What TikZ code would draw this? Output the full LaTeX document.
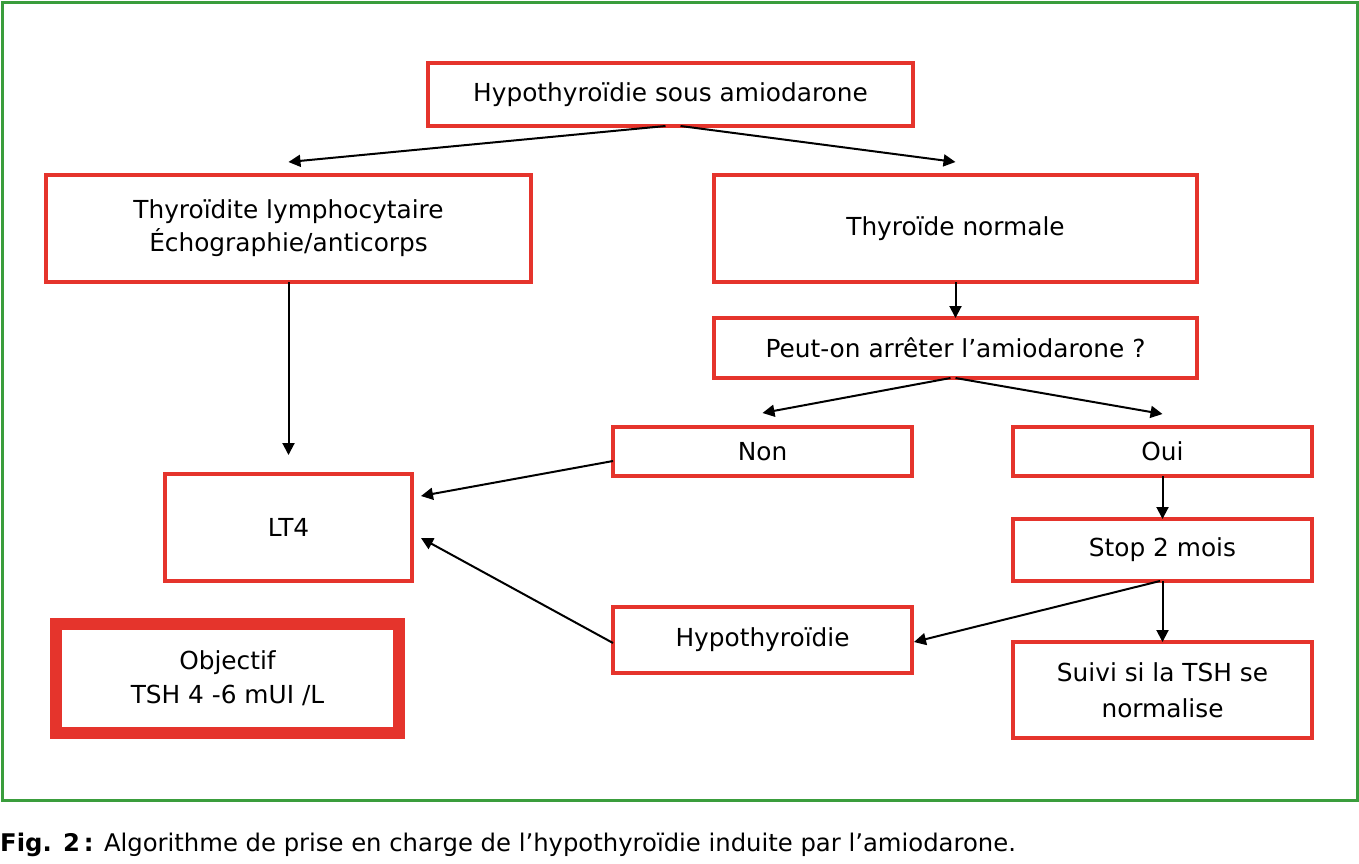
\documentclass[tikz,border=0pt]{standalone}
\usepackage{fontspec}
\setmainfont{DejaVu Sans}
\usetikzlibrary{arrows.meta}
\definecolor{boxred}{RGB}{229,52,44}
\definecolor{framegreen}{RGB}{58,157,60}
\begin{document}
\begin{tikzpicture}[x=1pt,y=-1pt,
  box/.style={draw=boxred, line width=3.2pt, inner sep=0pt, outer sep=0pt,
    align=center, font=\fontsize{24.8}{33}\selectfont},
  arr/.style={line width=2pt, -{Triangle[length=12pt,width=12pt]}}]
\useasboundingbox (0,0) rectangle (1359,863);
\draw[framegreen, line width=3pt] (2,2) rectangle (1357,800);

\node[box, minimum width=485pt, minimum height=63pt] (top) at (670.5,94.5) {Hypothyroïdie sous amiodarone};
\node[box, minimum width=485pt, minimum height=107pt] (thyro) at (288.5,228.5) {Thyroïdite lymphocytaire\\Échographie/anticorps};
\node[box, minimum width=483pt, minimum height=107pt] (norm) at (955.5,228.5) {Thyroïde normale};
\node[box, minimum width=483pt, minimum height=60pt] (peut) at (955.5,348) {Peut-on arrêter l’amiodarone ?};
\node[box, minimum width=299pt, minimum height=49pt] (non) at (762.5,451.5) {Non};
\node[box, minimum width=299pt, minimum height=49pt] (oui) at (1162.5,451.5) {Oui};
\node[box, minimum width=247pt, minimum height=107pt] (lt4) at (288.5,527.5) {LT4};
\node[box, minimum width=299pt, minimum height=62pt] (stop) at (1162.5,550) {Stop 2 mois};
\node[box, minimum width=299pt, minimum height=66pt] (hypo) at (762.5,640) {Hypothyroïdie};
\node[box, minimum width=299pt, minimum height=96pt, font=\fontsize{24.8}{36}\selectfont] (suivi) at (1162.5,690) {Suivi si la TSH se\\normalise};
\node[box, line width=12pt, minimum width=343pt, minimum height=109pt, font=\fontsize{24.8}{34}\selectfont] (obj) at (227.5,678.5) {Objectif\\TSH 4 -6 mUI /L};

\draw[arr] ([xshift=-5pt]top.south) -- ([yshift=13pt]thyro.north);
\draw[arr] ([xshift=10pt]top.south) -- ([yshift=13pt]norm.north);
\draw[arr] (thyro.south) -- ([yshift=19pt]lt4.north);
\draw[arr] (norm.south) -- (peut.north);
\draw[arr] ([xshift=-5pt]peut.south) -- ([yshift=14pt]non.north);
\draw[arr] (peut.south) -- ([yshift=13pt]oui.north);
\draw[arr] ([yshift=-9.5pt]non.west) -- ([xshift=9pt,yshift=31.5pt]lt4.east);
\draw[arr] (oui.south) -- (stop.north);
\draw[arr] ([xshift=-2.5pt]stop.south) -- ([xshift=2pt,yshift=-2pt]hypo.east);
\draw[arr] (stop.south) -- (suivi.north);
\draw[arr] ([yshift=-3pt]hypo.west) -- ([xshift=9pt,yshift=-10.5pt]lt4.east);

\node[anchor=base west, inner sep=0pt, font=\fontsize{24.3}{28}\selectfont] (cap) at (0,851)
  {\textbf{Fig. 2\,:} Algorithme de prise en charge de l’hypothyroïdie induite par l’amiodarone.};
\end{tikzpicture}
\end{document}
